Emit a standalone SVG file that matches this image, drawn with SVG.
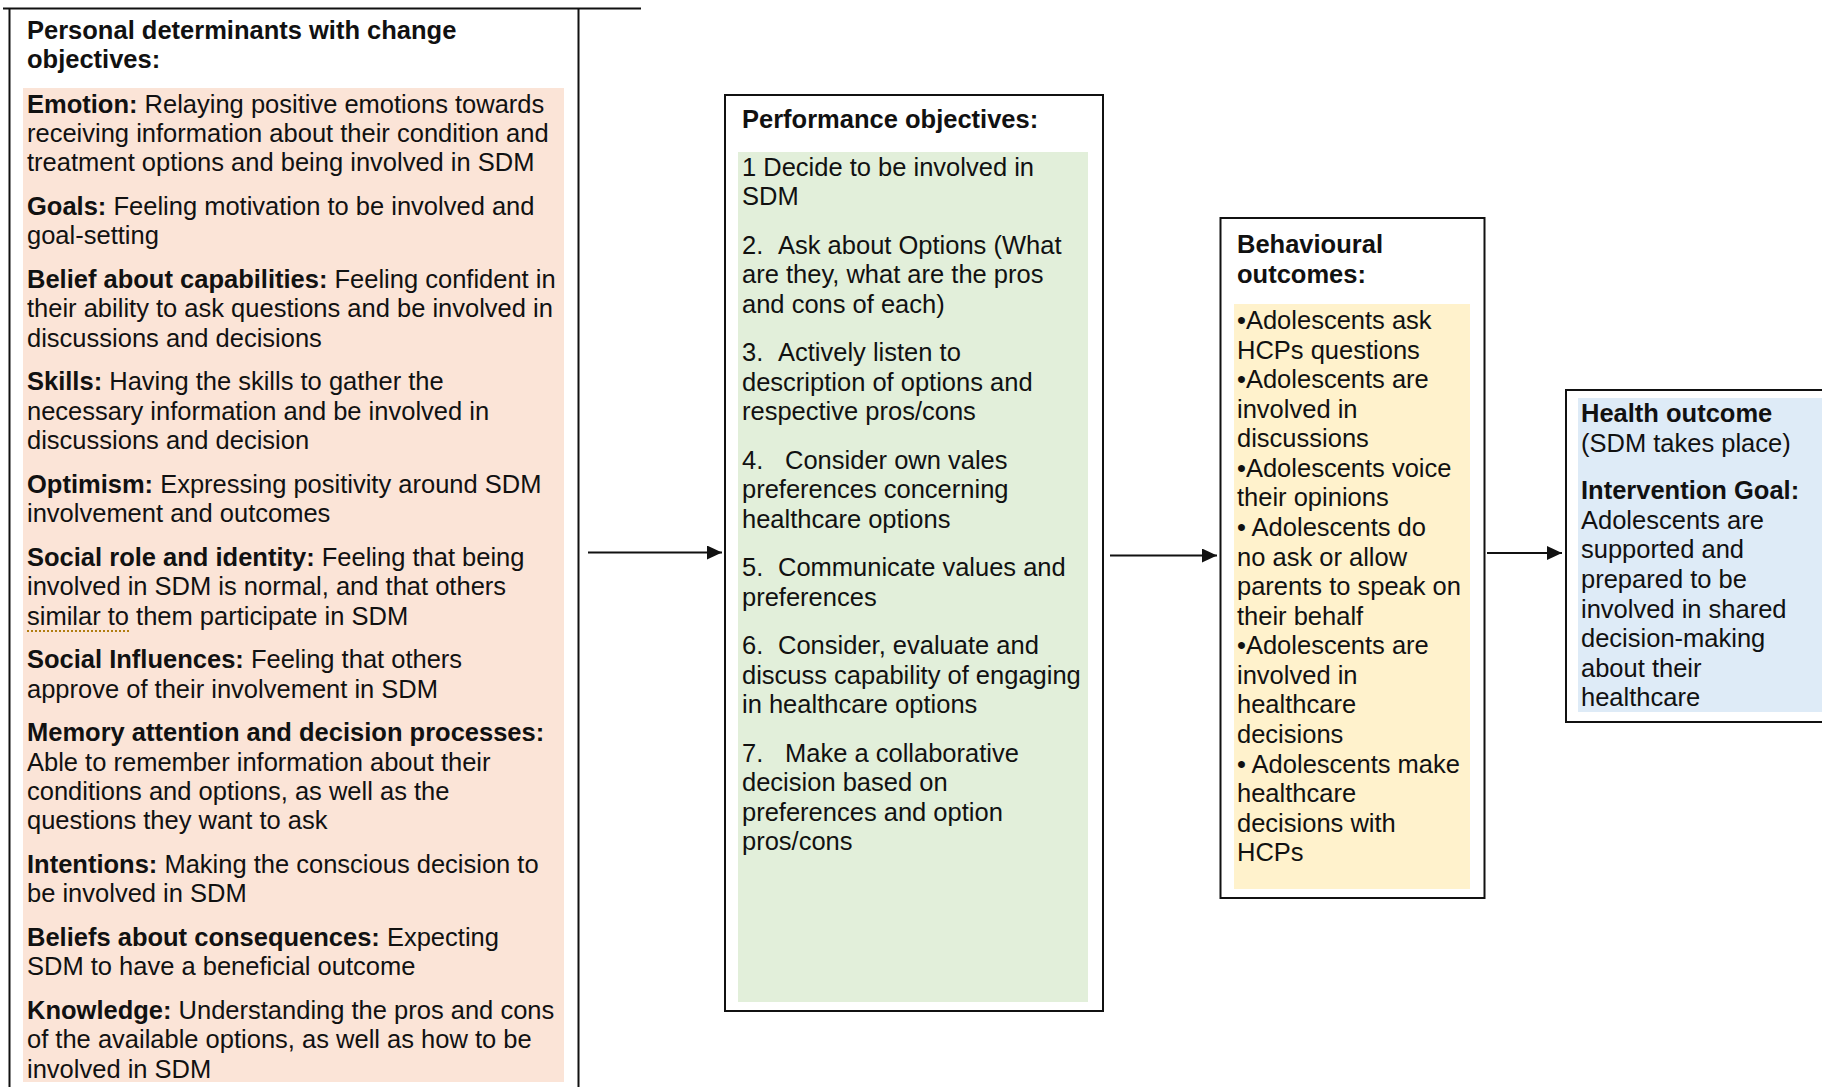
<svg xmlns="http://www.w3.org/2000/svg" width="1822" height="1087" viewBox="0 0 1822 1087">
<style>
text{font-family:"Liberation Sans",Arial,sans-serif;font-size:25.5px;fill:#111;transform:translateY(1.5px);}
.b{font-weight:bold;}
.box{fill:none;stroke:#111;stroke-width:2;}
.ln{stroke:#111;stroke-width:2;fill:none;}
.con{stroke:#111;stroke-width:2;fill:none;marker-end:url(#ah);}
</style>
<defs>
<marker id="ah" markerWidth="16" markerHeight="14" refX="15" refY="7" orient="auto" markerUnits="userSpaceOnUse">
<polygon points="0,0 15,7 0,14" fill="#111"/>
</marker>
</defs>
<rect width="1822" height="1087" fill="#fff"/>

<g id="personal-determinants">
<line class="ln" x1="3" y1="8.5" x2="641" y2="8.5"/>
<line class="ln" x1="9.5" y1="8" x2="9.5" y2="1087"/>
<line class="ln" x1="578.5" y1="8" x2="578.5" y2="1087"/>
<rect x="23" y="88" width="541" height="994" fill="#fbe4d7"/>
<text class="b" x="27" y="37">Personal determinants with change</text>
<text class="b" x="27" y="66">objectives:</text>
<text x="27" y="111"><tspan class="b">Emotion:</tspan> Relaying positive emotions towards</text>
<text x="27" y="140.4">receiving information about their condition and</text>
<text x="27" y="169.8">treatment options and being involved in SDM</text>
<text x="27" y="213.4"><tspan class="b">Goals:</tspan> Feeling motivation to be involved and</text>
<text x="27" y="242.8">goal-setting</text>
<text x="27" y="286.4"><tspan class="b">Belief about capabilities:</tspan> Feeling confident in</text>
<text x="27" y="315.8">their ability to ask questions and be involved in</text>
<text x="27" y="345.2">discussions and decisions</text>
<text x="27" y="388.8"><tspan class="b">Skills:</tspan> Having the skills to gather the</text>
<text x="27" y="418.2">necessary information and be involved in</text>
<text x="27" y="447.6">discussions and decision</text>
<text x="27" y="491.2"><tspan class="b">Optimism:</tspan> Expressing positivity around SDM</text>
<text x="27" y="520.6">involvement and outcomes</text>
<text x="27" y="564.2"><tspan class="b">Social role and identity:</tspan> Feeling that being</text>
<text x="27" y="593.6">involved in SDM is normal, and that others</text>
<text x="27" y="623">similar to them participate in SDM</text>
<line x1="27" y1="631" x2="129" y2="631" stroke="#b07d10" stroke-width="2" stroke-dasharray="2,2"/>
<text x="27" y="666.6"><tspan class="b">Social Influences:</tspan> Feeling that others</text>
<text x="27" y="696">approve of their involvement in SDM</text>
<text class="b" x="27" y="739.6">Memory attention and decision processes:</text>
<text x="27" y="769">Able to remember information about their</text>
<text x="27" y="798.4">conditions and options, as well as the</text>
<text x="27" y="827.8">questions they want to ask</text>
<text x="27" y="871.4"><tspan class="b">Intentions:</tspan> Making the conscious decision to</text>
<text x="27" y="900.8">be involved in SDM</text>
<text x="27" y="944.4"><tspan class="b">Beliefs about consequences:</tspan> Expecting</text>
<text x="27" y="973.8">SDM to have a beneficial outcome</text>
<text x="27" y="1017.4"><tspan class="b">Knowledge:</tspan> Understanding the pros and cons</text>
<text x="27" y="1046.8">of the available options, as well as how to be</text>
<text x="27" y="1076.2">involved in SDM</text>
</g>

<g id="performance-objectives">
<rect class="box" x="725" y="95" width="378" height="916" fill="#fff"/>
<rect x="738" y="152" width="350" height="850" fill="#e2efda"/>
<text class="b" x="742" y="126.5">Performance objectives:</text>
<text x="742" y="174">1 Decide to be involved in</text>
<text x="742" y="203.5">SDM</text>
<text y="252"><tspan x="742">2.</tspan><tspan x="778">Ask about Options (What</tspan></text>
<text x="742" y="281.5">are they, what are the pros</text>
<text x="742" y="311">and cons of each)</text>
<text y="359.5"><tspan x="742">3.</tspan><tspan x="778">Actively listen to</tspan></text>
<text x="742" y="389">description of options and</text>
<text x="742" y="418.5">respective pros/cons</text>
<text y="467"><tspan x="742">4.</tspan><tspan x="785">Consider own vales</tspan></text>
<text x="742" y="496.5">preferences concerning</text>
<text x="742" y="526">healthcare options</text>
<text y="574.5"><tspan x="742">5.</tspan><tspan x="778">Communicate values and</tspan></text>
<text x="742" y="604">preferences</text>
<text y="652.5"><tspan x="742">6.</tspan><tspan x="778">Consider, evaluate and</tspan></text>
<text x="742" y="682">discuss capability of engaging</text>
<text x="742" y="711.5">in healthcare options</text>
<text y="760"><tspan x="742">7.</tspan><tspan x="785">Make a collaborative</tspan></text>
<text x="742" y="789.5">decision based on</text>
<text x="742" y="819">preferences and option</text>
<text x="742" y="848.5">pros/cons</text>
</g>

<g id="behavioural-outcomes">
<rect class="box" x="1220.5" y="218" width="264" height="680" fill="#fff"/>
<rect x="1234" y="304" width="236" height="585" fill="#fff2cc"/>
<text class="b" x="1237" y="251">Behavioural</text>
<text class="b" x="1237" y="281">outcomes:</text>
<text xml:space="preserve" x="1237" y="327.5">•Adolescents ask</text>
<text x="1237" y="357.1">HCPs questions</text>
<text x="1237" y="386.6">•Adolescents are</text>
<text x="1237" y="416.2">involved in</text>
<text x="1237" y="445.8">discussions</text>
<text x="1237" y="475.4">•Adolescents voice</text>
<text x="1237" y="504.9">their opinions</text>
<text xml:space="preserve" x="1237" y="534.5">• Adolescents do</text>
<text x="1237" y="564.1">no ask or allow</text>
<text x="1237" y="593.6">parents to speak on</text>
<text x="1237" y="623.2">their behalf</text>
<text x="1237" y="652.8">•Adolescents are</text>
<text x="1237" y="682.3">involved in</text>
<text x="1237" y="711.9">healthcare</text>
<text x="1237" y="741.5">decisions</text>
<text xml:space="preserve" x="1237" y="771">• Adolescents make</text>
<text x="1237" y="800.6">healthcare</text>
<text x="1237" y="830.2">decisions with</text>
<text x="1237" y="859.8">HCPs</text>
</g>

<g id="health-outcome">
<rect class="box" x="1566" y="390" width="300" height="332" fill="#fff"/>
<rect x="1578" y="398" width="244" height="314" fill="#deebf7"/>
<text class="b" x="1581" y="420.5">Health outcome</text>
<text x="1581" y="450.5">(SDM takes place)</text>
<text class="b" x="1581" y="497">Intervention Goal:</text>
<text x="1581" y="527">Adolescents are</text>
<text x="1581" y="556.5">supported and</text>
<text x="1581" y="586.5">prepared to be</text>
<text x="1581" y="616">involved in shared</text>
<text x="1581" y="645.5">decision-making</text>
<text x="1581" y="675">about their</text>
<text x="1581" y="704.5">healthcare</text>
</g>

<g id="connectors">
<line class="con" x1="588" y1="552.5" x2="722" y2="552.5"/>
<line class="con" x1="1110" y1="555.5" x2="1217" y2="555.5"/>
<line class="con" x1="1487" y1="553" x2="1562" y2="553"/>
</g>
</svg>
